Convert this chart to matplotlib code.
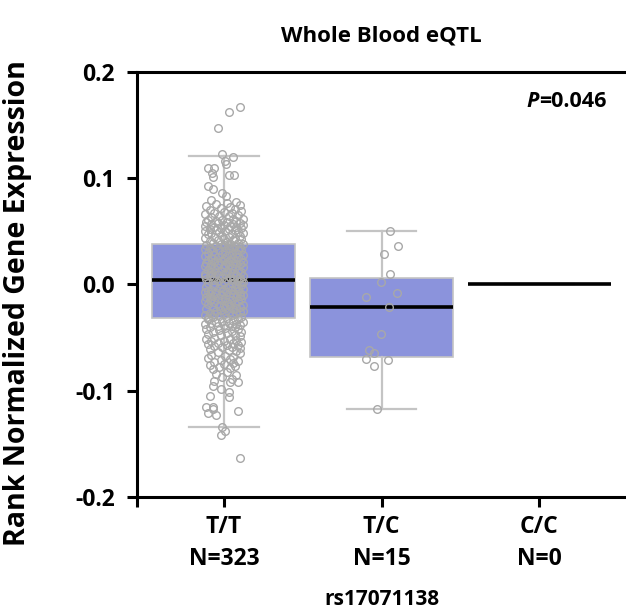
import matplotlib
matplotlib.use("Agg")
import matplotlib.pyplot as plt

plt.rcParams['font.family'] = ['Open Sans', 'DejaVu Sans']
plt.rcParams['font.weight'] = 'bold'

# Genotype groups
groups = ["T/T\nN=323", "T/C\nN=15", "C/C\nN=0"]

# Box statistics (q1, median, q3, whisker low, whisker high)
q1 = [-0.032, -0.068, 0.0]
med = [0.004, -0.021, 0.0]
q3 = [0.038, 0.006, 0.0]
whislo = [-0.134, -0.117, 0.0]
whishi = [0.121, 0.050, 0.0]

# T/T points: (value, horizontal jitter)
tt_points = [
    (0.167, 0.10), (0.162, 0.03), (0.147, -0.04), (0.123, -0.01), (0.120, 0.06), (0.116, 0.01),
    (0.113, 0.015), (0.110, -0.10), (0.110, -0.065), (0.105, -0.075), (0.101, -0.07), (0.103, 0.03),
    (0.103, 0.065), (0.093, -0.10), (0.090, -0.07), (0.086, -0.01), (0.083, 0.015),
    (0.079, -0.08), (0.078, 0.08), (0.077, 0.02), (0.076, -0.05), (0.075, 0.10), (0.074, -0.11),
    (0.073, 0.04), (0.072, -0.02), (0.071, 0.07), (0.070, -0.09), (0.069, 0.11), (0.068, 0.00),
    (0.067, -0.06), (0.067, 0.05), (0.066, -0.12), (0.065, 0.09), (0.064, -0.03), (0.064, 0.03),
    (0.063, -0.08), (0.062, 0.12), (0.062, 0.06), (0.061, -0.10), (0.061, -0.01), (0.060, 0.08),
    (0.060, -0.05),
    (0.059, 0.02), (0.059, -0.11), (0.058, 0.10), (0.058, -0.04), (0.057, 0.06), (0.057, -0.08),
    (0.056, 0.00), (0.056, 0.12), (0.055, -0.12), (0.055, 0.04), (0.054, -0.06), (0.054, 0.08),
    (0.053, -0.02), (0.053, 0.11), (0.052, -0.09), (0.052, 0.03), (0.051, 0.07), (0.051, -0.05),
    (0.050, -0.12), (0.050, 0.01), (0.049, 0.09), (0.049, -0.03), (0.048, 0.12), (0.048, -0.08),
    (0.047, 0.05), (0.047, -0.10), (0.046, -0.01), (0.046, 0.10), (0.045, 0.03), (0.045, -0.06),
    (0.044, 0.07), (0.044, -0.12), (0.043, 0.00), (0.043, 0.11), (0.042, -0.04), (0.042, 0.06),
    (0.041, -0.09), (0.040, 0.02),
    (0.039, 0.09), (0.039, -0.07), (0.038, -0.02), (0.038, 0.12), (0.037, 0.04), (0.037, -0.11),
    (0.036, 0.07), (0.036, -0.05), (0.035, 0.00), (0.035, 0.10), (0.034, -0.09), (0.034, 0.03),
    (0.033, -0.12), (0.033, 0.06), (0.032, -0.03), (0.032, 0.11), (0.031, -0.07), (0.031, 0.01),
    (0.030, 0.08), (0.030, -0.10), (0.029, -0.01), (0.029, 0.05), (0.028, 0.12), (0.028, -0.06),
    (0.027, 0.02), (0.027, -0.12), (0.026, 0.09), (0.026, -0.04), (0.025, 0.06), (0.025, -0.08),
    (0.024, 0.00), (0.024, 0.11), (0.023, -0.10), (0.023, 0.04), (0.022, -0.02), (0.022, 0.08),
    (0.021, -0.06), (0.021, 0.12), (0.021, 0.02), (0.020, -0.11), (0.020, 0.06), (0.020, -0.03),
    (0.024, -0.07), (0.032, 0.09), (0.037, 0.01),
    (0.019, 0.10), (0.019, -0.08), (0.018, 0.03), (0.018, -0.04), (0.017, 0.07), (0.017, -0.12),
    (0.016, 0.00), (0.016, 0.12), (0.015, -0.06), (0.015, 0.05), (0.014, -0.10), (0.014, 0.09),
    (0.013, -0.02), (0.013, 0.02), (0.012, 0.11), (0.012, -0.08), (0.011, 0.06), (0.011, -0.05),
    (0.010, -0.12), (0.010, 0.01), (0.009, 0.08), (0.009, -0.03), (0.008, 0.12), (0.008, -0.09),
    (0.007, 0.04), (0.007, -0.06), (0.006, 0.10), (0.006, -0.01), (0.005, -0.11), (0.005, 0.06),
    (0.004, 0.02), (0.004, -0.07), (0.003, 0.09), (0.003, -0.04), (0.002, 0.12), (0.002, 0.00),
    (0.001, -0.10), (0.001, 0.05), (0.000, -0.02), (0.000, 0.08), (0.012, 0.04), (0.016, -0.09),
    (0.008, -0.12), (0.003, 0.11), (0.018, 0.01),
    (-0.001, -0.06), (-0.001, 0.11), (-0.002, 0.03), (-0.002, -0.11), (-0.003, 0.07), (-0.003, -0.03),
    (-0.004, 0.00), (-0.004, 0.12), (-0.005, -0.08), (-0.005, 0.05), (-0.006, -0.01), (-0.006, 0.09),
    (-0.007, -0.12), (-0.007, 0.02), (-0.008, -0.05), (-0.008, 0.10), (-0.009, 0.06), (-0.009, -0.09),
    (-0.010, -0.02), (-0.010, 0.12), (-0.011, 0.04), (-0.011, -0.07), (-0.012, 0.08), (-0.012, -0.11),
    (-0.013, 0.01), (-0.013, -0.04), (-0.014, 0.11), (-0.014, -0.08), (-0.015, 0.05), (-0.015, -0.01),
    (-0.016, -0.12), (-0.016, 0.09), (-0.017, 0.02), (-0.017, -0.06), (-0.018, 0.07), (-0.018, -0.10),
    (-0.019, 0.00), (-0.019, 0.12), (-0.020, -0.03), (-0.020, 0.04), (-0.006, -0.10), (-0.011, 0.10),
    (-0.015, -0.09), (-0.003, 0.09), (-0.018, 0.03),
    (-0.021, -0.07), (-0.021, 0.10), (-0.022, 0.01), (-0.023, -0.11), (-0.023, 0.06), (-0.024, -0.02),
    (-0.025, 0.12), (-0.025, -0.05), (-0.026, 0.03), (-0.027, -0.09), (-0.027, 0.08), (-0.028, 0.00),
    (-0.029, -0.12), (-0.029, 0.05), (-0.030, -0.03), (-0.031, 0.11), (-0.031, -0.07), (-0.032, 0.02),
    (-0.033, 0.09), (-0.033, -0.10), (-0.034, -0.01), (-0.034, 0.06), (-0.035, -0.05), (-0.035, 0.12),
    (-0.036, 0.03), (-0.036, -0.08), (-0.037, 0.08), (-0.037, -0.12), (-0.038, 0.00), (-0.038, 0.10),
    (-0.039, -0.04), (-0.039, 0.05), (-0.040, -0.09), (-0.040, 0.07), (-0.022, 0.08), (-0.028, -0.06),
    (-0.032, -0.10), (-0.026, 0.10),
    (-0.041, 0.01), (-0.042, -0.11), (-0.042, 0.09), (-0.043, -0.03), (-0.044, 0.05), (-0.045, -0.07),
    (-0.045, 0.11), (-0.046, 0.02), (-0.047, -0.10), (-0.048, 0.07), (-0.048, -0.02), (-0.049, 0.10),
    (-0.050, -0.06), (-0.051, 0.04), (-0.051, -0.11), (-0.052, 0.08), (-0.053, 0.00), (-0.053, -0.08),
    (-0.054, 0.11), (-0.055, -0.04), (-0.055, 0.06), (-0.056, -0.10), (-0.057, 0.02), (-0.057, 0.09),
    (-0.058, -0.06), (-0.059, 0.05), (-0.059, -0.01), (-0.060, 0.10),
    (-0.061, -0.09), (-0.062, 0.03), (-0.063, 0.08), (-0.064, -0.04), (-0.065, 0.10), (-0.066, -0.08),
    (-0.067, 0.01), (-0.068, 0.06), (-0.069, -0.10), (-0.070, 0.04), (-0.071, -0.02), (-0.072, 0.09),
    (-0.073, -0.06), (-0.074, 0.06), (-0.075, 0.00), (-0.076, -0.09), (-0.077, 0.07), (-0.078, -0.03),
    (-0.079, 0.04), (-0.080, -0.07),
    (-0.082, 0.02), (-0.084, -0.05), (-0.085, 0.08), (-0.087, -0.01), (-0.089, 0.05),
    (-0.091, -0.06), (-0.092, 0.04), (-0.092, 0.09), (-0.096, -0.07), (-0.098, -0.02), (-0.101, 0.03),
    (-0.105, -0.09), (-0.106, 0.03), (-0.115, -0.11), (-0.115, -0.07), (-0.117, -0.07), (-0.119, 0.09),
    (-0.121, -0.10), (-0.123, -0.05), (-0.134, -0.01), (-0.138, 0.01), (-0.142, -0.015), (-0.163, 0.10),
]

# T/C points: (value, horizontal jitter)
tc_points = [
    (0.050, 0.055), (0.0365, 0.107), (0.029, 0.013), (0.010, 0.055), (0.002, -0.004),
    (-0.0115, -0.096), (-0.008, 0.10), (-0.021, 0.05), (-0.047, -0.004), (-0.062, -0.077),
    (-0.065, -0.05), (-0.070, -0.10), (-0.071, 0.04), (-0.077, -0.05), (-0.117, -0.03),
]

fig = plt.figure(figsize=(6.26, 6.12), dpi=100)
ax = fig.add_axes([0.219, 0.188, 0.781, 0.6945])

stats = []
for i in range(3):
    stats.append(dict(q1=q1[i], med=med[i], q3=q3[i], whislo=whislo[i], whishi=whishi[i], fliers=[]))

ax.bxp(stats, positions=[0, 1, 2], widths=0.905, capwidths=0.44, patch_artist=True,
       showfliers=False,
       boxprops=dict(facecolor="#8b93dc", edgecolor="#c4c4c4", linewidth=1.2),
       whiskerprops=dict(color="#c4c4c4", linewidth=1.6),
       capprops=dict(color="#c4c4c4", linewidth=1.6),
       medianprops=dict(color="black", linewidth=2.6), zorder=1)

tt_y = [p[0] for p in tt_points]
tt_x = [0 + p[1] for p in tt_points]
tc_y = [p[0] for p in tc_points]
tc_x = [1 + p[1] for p in tc_points]
ax.plot(tt_x, tt_y, "o", mfc="none", mec="#a8a8a8", ms=5.5, mew=1.0, zorder=3)
ax.plot(tc_x, tc_y, "o", mfc="none", mec="#a8a8a8", ms=5.5, mew=1.0, zorder=3)

ax.set_xlim(-0.55, 2.55)
ax.set_ylim(-0.2, 0.2)
ax.set_yticks([0.2, 0.1, 0.0, -0.1, -0.2])
ax.set_yticklabels(["0.2", "0.1", "0.0", "-0.1", "-0.2"])
ax.set_xticks([0, 1, 2])
ax.set_xticklabels(groups, linespacing=1.45)
ax.set_xticks([-0.55], minor=True)

for s in ["left", "bottom", "top"]:
    ax.spines[s].set_linewidth(2.2)
ax.spines["right"].set_visible(False)
ax.tick_params(axis="both", which="both", direction="out", length=7, width=2.2, labelsize=16.5)
ax.tick_params(axis="x", which="major", pad=6)
ax.tick_params(axis="y", pad=9)

ax.set_ylabel("Rank Normalized Gene Expression", fontsize=20.5, fontweight="bold")
ax.yaxis.set_label_coords(-0.215, 0.455)
ax.set_xlabel("rs17071138", fontsize=15, fontweight="bold", labelpad=13)
ax.set_title("Whole Blood eQTL", fontsize=16, fontweight="bold", pad=22)

pval = ax.text(0.96, 0.93, "=0.046", transform=ax.transAxes, ha="right", va="center",
               fontsize=15.5, fontweight="bold")
ax.annotate("P", xy=(0, 0.5), xycoords=pval, ha="right", va="center",
            fontsize=15.5, fontweight="bold", fontstyle="italic")

fig.savefig("out.png", dpi=100)
